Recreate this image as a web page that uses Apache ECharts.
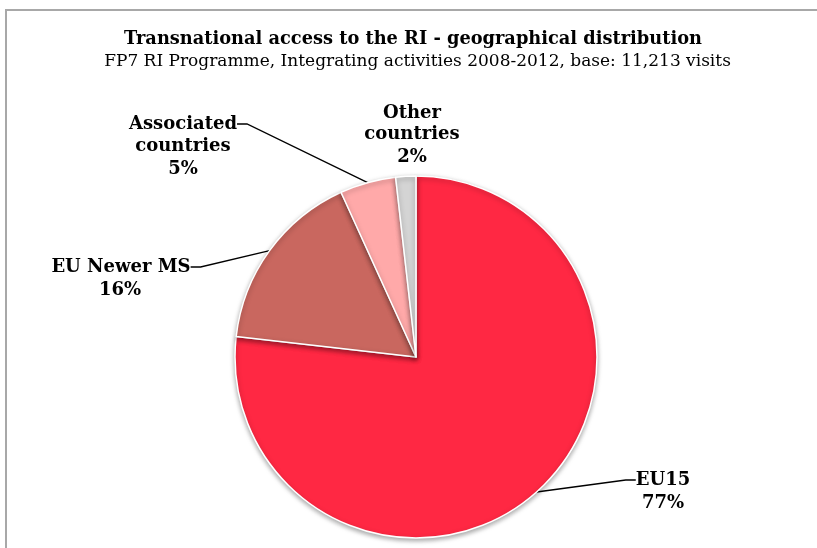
<!DOCTYPE html>
<html>
<head>
<meta charset="utf-8">
<script src="https://cdn.jsdelivr.net/npm/echarts@6/dist/echarts.min.js"></script>
<style>html,body{margin:0;padding:0;background:#fff}#c{width:817px;height:548px}</style>
</head>
<body>
<div id="c"></div>
<script>
const categories = ['EU15', 'EU Newer MS', 'Associated countries', 'Other countries'];
const labelFirstLines = ['EU15', 'EU Newer MS', 'Associated', 'Other'];
const labelRestLines = ['', '', 'countries', 'countries'];
const shares = [76.8, 16.4, 5.0, 1.8];
const colors = ['#FF2843', '#C9675F', '#FFA9A9', '#D4D4D4'];
const firstSpots = [[663, 480], [121, 267], [183, 124], [412, 113]];
const restSpots = [[663, 503], [120, 290], [183, 158], [412, 146]];
const showLines = [true, true, true, false];

const font = '"DejaVu Serif", "Liberation Serif", serif';
const labelFont = { fontFamily: font, fontWeight: 'bold', fontSize: 18, color: '#000', lineHeight: 23, align: 'center' };
const chart = echarts.init(document.getElementById('c'));
const base = {
  type: 'pie', center: [416, 357], radius: 181, startAngle: 90, clockwise: true
};
chart.setOption({
  animation: false,
  graphic: [{
    type: 'rect', shape: { x: 6, y: 10, width: 900, height: 700 },
    style: { fill: 'none', stroke: '#A8A8A8', lineWidth: 2 }, silent: true
  }],
  title: [{
    text: 'Transnational access to the RI - geographical distribution',
    left: 413, top: 30, textAlign: 'center', padding: 0,
    textStyle: { fontFamily: font, fontWeight: 'bold', fontSize: 17.8, color: '#000' }
  }, {
    text: 'FP7 RI Programme, Integrating activities 2008-2012, base: 11,213 visits',
    left: 417.5, top: 53, textAlign: 'center', padding: 0,
    textStyle: { fontFamily: font, fontWeight: 'normal', fontSize: 17, color: '#000' }
  }],
  series: [Object.assign({}, base, {
    z: 2,
    itemStyle: {
      borderColor: '#fff', borderWidth: 1.5,
      shadowBlur: 5, shadowColor: 'rgba(0,0,0,0.35)', shadowOffsetY: 2
    },
    label: Object.assign({ show: true, formatter: p => labelFirstLines[p.dataIndex] }, labelFont),
    labelLine: { show: true, length: 15, length2: 10, lineStyle: { color: '#000', width: 1.3 } },
    labelLayout: p => ({
      x: firstSpots[p.dataIndex][0], y: firstSpots[p.dataIndex][1],
      align: 'center', verticalAlign: 'middle'
    }),
    data: categories.map((c, i) => ({
      name: c, value: shares[i],
      itemStyle: { color: colors[i] },
      labelLine: { show: showLines[i] }
    }))
  }), Object.assign({}, base, {
    z: 1, silent: true,
    itemStyle: { color: 'rgba(0,0,0,0)', borderWidth: 0 },
    label: Object.assign({
      show: true,
      formatter: p => (labelRestLines[p.dataIndex] ? labelRestLines[p.dataIndex] + '\n' : '') + Math.round(p.percent) + '%'
    }, labelFont),
    labelLine: { show: false },
    labelLayout: p => ({
      x: restSpots[p.dataIndex][0], y: restSpots[p.dataIndex][1],
      align: 'center', verticalAlign: 'middle'
    }),
    data: categories.map((c, i) => ({ name: c, value: shares[i] }))
  })]
});
</script>
</body>
</html>
